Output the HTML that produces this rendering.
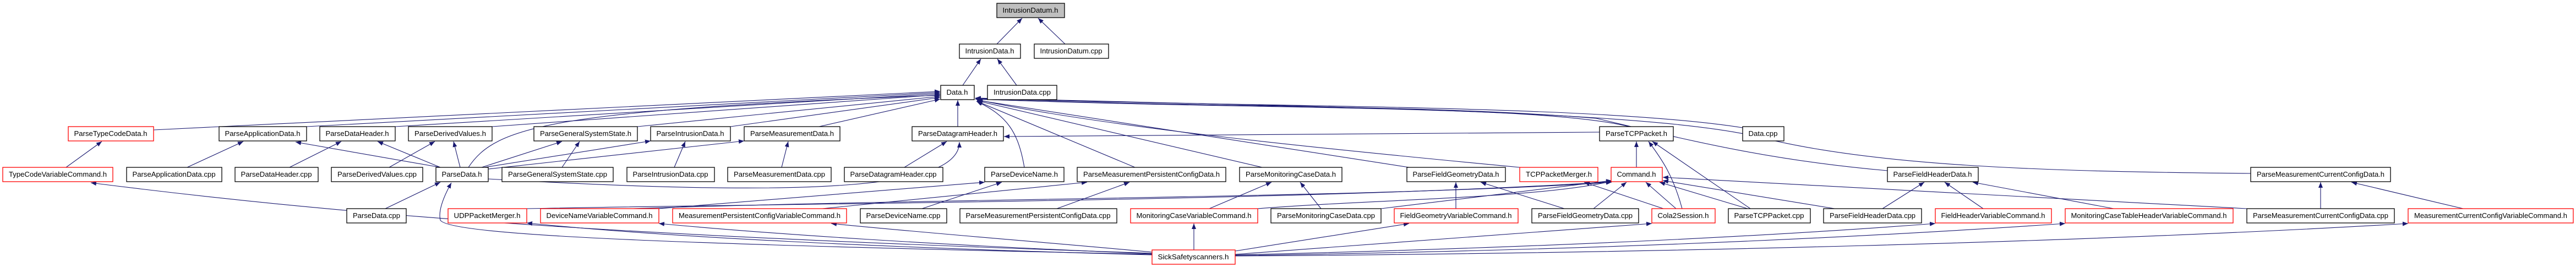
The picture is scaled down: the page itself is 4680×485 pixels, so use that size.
<!DOCTYPE html>
<html><head><meta charset="utf-8"><style>
html,body{margin:0;padding:0;background:#fff;}
svg{display:block;}
text{font-family:"Liberation Sans",Arial,sans-serif;font-size:13px;fill:#000;}
</style></head><body>
<svg width="4680" height="485" viewBox="0 0 4680 485" xmlns="http://www.w3.org/2000/svg">
<defs>
<marker id="a" viewBox="0 0 10 8" refX="10" refY="4" markerWidth="10" markerHeight="8" markerUnits="userSpaceOnUse" orient="auto">
<path d="M0,0 L10,4 L0,8 z" fill="#191970"/>
</marker>
</defs>
<g fill="none" stroke="#191970" stroke-width="1.1" marker-end="url(#a)">
<path d="M1811 80 L1857 33"/>
<path d="M1935 80 L1886 33"/>
<path d="M1749 155 L1782 107"/>
<path d="M1847 155 L1812 107"/>
<path d="M1740 230 L1740 182"/>
<path d="M279 236 L1708 166"/>
<path d="M557 230 L1708 168"/>
<path d="M718 230 L1708 170"/>
<path d="M894 230 L1708 172"/>
<path d="M1158 230 L1708 175"/>
<path d="M1327 230 L1708 177"/>
<path d="M1488 230 L1708 180"/>
<path d="M851 304 C 900 230, 1000 200, 1708 173"/>
<path d="M1861 304 C 1850 240, 1830 210, 1774 184"/>
<path d="M2062 304 L1775 184"/>
<path d="M2293 304 L1775 183"/>
<path d="M2560 304 L1775 182"/>
<path d="M2761 304 C 2400 270, 2000 230, 1775 181"/>
<path d="M2906 240 L1824 248"/>
<path d="M2960 230 C 2800 190, 2300 200, 1772 180"/>
<path d="M3166 232 C 2900 190, 2300 195, 1772 179"/>
<path d="M3429 310 C 3200 290, 3050 250, 2900 215 C 2600 190, 2200 195, 1772 180"/>
<path d="M4089 315 C 3700 312, 3400 300, 3200 250 C 3000 200, 2400 195, 1772 178"/>
<path d="M120 304 L185 257"/>
<path d="M340 304 L442 257"/>
<path d="M800 304 L537 258"/>
<path d="M526 304 L620 257"/>
<path d="M800 304 L686 257"/>
<path d="M707 304 L790 257"/>
<path d="M836 304 L824 257"/>
<path d="M875 304 L1021 257"/>
<path d="M1021 304 L1053 257"/>
<path d="M880 304 L1182 256"/>
<path d="M1225 304 L1245 257"/>
<path d="M887 307 L1352 256"/>
<path d="M1420 304 L1432 257"/>
<path d="M1643 304 L1720 257"/>
<path d="M700 379 L800 331"/>
<path d="M2093 462 C 1300 445, 820 430, 800 400 C 795 380, 810 350, 820 332"/>
<path d="M887 325 C 1500 360, 1743 340, 1743 258"/>
<path d="M957 379 C 1400 370, 2400 365, 2928 330"/>
<path d="M1197 379 L1789 331"/>
<path d="M1150 379 C 1700 360, 2500 360, 2928 331"/>
<path d="M1494 379 L1975 331"/>
<path d="M1675 379 L1820 331"/>
<path d="M1920 379 L2052 331"/>
<path d="M2197 379 L2310 331"/>
<path d="M2400 379 L2362 331"/>
<path d="M2509 379 L2928 328"/>
<path d="M2285 379 C 2500 362, 2800 360, 2928 329"/>
<path d="M2645 379 L2645 331"/>
<path d="M2842 379 L2690 331"/>
<path d="M2895 379 L2955 331"/>
<path d="M3022 379 L2878 331"/>
<path d="M3045 379 L2990 331"/>
<path d="M3056 379 C 3040 320, 3020 290, 2995 257"/>
<path d="M3180 379 L3002 257"/>
<path d="M3175 379 L3015 331"/>
<path d="M2973 304 L2973 257"/>
<path d="M3333 379 L3021 328"/>
<path d="M3420 379 L3496 331"/>
<path d="M3603 379 L3533 331"/>
<path d="M3840 379 L3584 331"/>
<path d="M4082 379 L3021 322"/>
<path d="M4216 379 L4216 331"/>
<path d="M4475 379 L4272 331"/>
<path d="M2093 460 C 1200 430, 700 400, 165 332"/>
<path d="M2093 463 C 1600 450, 1200 430, 957 405"/>
<path d="M2093 461 C 1700 445, 1400 425, 1197 406"/>
<path d="M2093 458 C 1900 440, 1700 425, 1510 406"/>
<path d="M2169 454 L2169 406"/>
<path d="M2244 456 L2560 406"/>
<path d="M2244 462 L3001 406"/>
<path d="M2244 463 C 2800 450, 3200 430, 3516 406"/>
<path d="M2244 464 C 2900 455, 3400 430, 3752 406"/>
<path d="M2244 465 C 3000 460, 3800 440, 4375 406"/>
</g>
<g stroke-width="1.3" fill="#fff">
<rect x="1811" y="6" width="123" height="26" fill="#bfbfbf" stroke="#000"/>
<rect x="1743" y="80" width="111" height="26" stroke="#000"/>
<rect x="1879" y="80" width="135" height="26" stroke="#000"/>
<rect x="1709" y="155" width="61" height="26" stroke="#000"/>
<rect x="1794" y="155" width="126" height="26" stroke="#000"/>
<rect x="124" y="230" width="155" height="26" stroke="#f00"/>
<rect x="398" y="230" width="159" height="26" stroke="#000"/>
<rect x="581" y="230" width="137" height="26" stroke="#000"/>
<rect x="742" y="230" width="152" height="26" stroke="#000"/>
<rect x="970" y="230" width="188" height="26" stroke="#000"/>
<rect x="1182" y="230" width="145" height="26" stroke="#000"/>
<rect x="1352" y="230" width="174" height="26" stroke="#000"/>
<rect x="1657" y="230" width="166" height="26" stroke="#000"/>
<rect x="2906" y="230" width="134" height="26" stroke="#000"/>
<rect x="3166" y="230" width="75" height="26" stroke="#000"/>
<rect x="5" y="304" width="200" height="26" stroke="#f00"/>
<rect x="230" y="304" width="173" height="26" stroke="#000"/>
<rect x="427" y="304" width="151" height="26" stroke="#000"/>
<rect x="602" y="304" width="166" height="26" stroke="#000"/>
<rect x="792" y="304" width="95" height="26" stroke="#000"/>
<rect x="912" y="304" width="202" height="26" stroke="#000"/>
<rect x="1139" y="304" width="159" height="26" stroke="#000"/>
<rect x="1322" y="304" width="188" height="26" stroke="#000"/>
<rect x="1534" y="304" width="179" height="26" stroke="#000"/>
<rect x="1789" y="304" width="144" height="26" stroke="#000"/>
<rect x="1957" y="304" width="270" height="26" stroke="#000"/>
<rect x="2252" y="304" width="186" height="26" stroke="#000"/>
<rect x="2556" y="304" width="179" height="26" stroke="#000"/>
<rect x="2761" y="304" width="142" height="26" stroke="#f00"/>
<rect x="2927" y="304" width="93" height="26" stroke="#f00"/>
<rect x="3429" y="304" width="165" height="26" stroke="#000"/>
<rect x="4089" y="304" width="254" height="26" stroke="#000"/>
<rect x="630" y="379" width="108" height="26" stroke="#000"/>
<rect x="814" y="379" width="143" height="26" stroke="#f00"/>
<rect x="982" y="379" width="215" height="26" stroke="#f00"/>
<rect x="1222" y="379" width="316" height="26" stroke="#f00"/>
<rect x="1563" y="379" width="157" height="26" stroke="#000"/>
<rect x="1744" y="379" width="285" height="26" stroke="#000"/>
<rect x="2054" y="379" width="231" height="26" stroke="#f00"/>
<rect x="2309" y="379" width="200" height="26" stroke="#000"/>
<rect x="2533" y="379" width="225" height="26" stroke="#f00"/>
<rect x="2783" y="379" width="194" height="26" stroke="#000"/>
<rect x="3001" y="379" width="115" height="26" stroke="#f00"/>
<rect x="3140" y="379" width="149" height="26" stroke="#000"/>
<rect x="3313" y="379" width="178" height="26" stroke="#000"/>
<rect x="3516" y="379" width="211" height="26" stroke="#f00"/>
<rect x="3752" y="379" width="305" height="26" stroke="#f00"/>
<rect x="4082" y="379" width="268" height="26" stroke="#000"/>
<rect x="4375" y="379" width="300" height="26" stroke="#f00"/>
<rect x="2093" y="454" width="151" height="26" stroke="#f00"/>
</g>
<g text-anchor="middle" lengthAdjust="spacingAndGlyphs">
<text x="1872" y="23" textLength="101" lengthAdjust="spacingAndGlyphs">IntrusionDatum.h</text>
<text x="1798" y="97" textLength="89" lengthAdjust="spacingAndGlyphs">IntrusionData.h</text>
<text x="1946" y="97" textLength="113" lengthAdjust="spacingAndGlyphs">IntrusionDatum.cpp</text>
<text x="1739" y="172" textLength="39" lengthAdjust="spacingAndGlyphs">Data.h</text>
<text x="1857" y="172" textLength="104" lengthAdjust="spacingAndGlyphs">IntrusionData.cpp</text>
<text x="201" y="247" textLength="133" lengthAdjust="spacingAndGlyphs">ParseTypeCodeData.h</text>
<text x="477" y="247" textLength="137" lengthAdjust="spacingAndGlyphs">ParseApplicationData.h</text>
<text x="649" y="247" textLength="115" lengthAdjust="spacingAndGlyphs">ParseDataHeader.h</text>
<text x="818" y="247" textLength="130" lengthAdjust="spacingAndGlyphs">ParseDerivedValues.h</text>
<text x="1064" y="247" textLength="166" lengthAdjust="spacingAndGlyphs">ParseGeneralSystemState.h</text>
<text x="1254" y="247" textLength="123" lengthAdjust="spacingAndGlyphs">ParseIntrusionData.h</text>
<text x="1439" y="247" textLength="152" lengthAdjust="spacingAndGlyphs">ParseMeasurementData.h</text>
<text x="1740" y="247" textLength="144" lengthAdjust="spacingAndGlyphs">ParseDatagramHeader.h</text>
<text x="2973" y="247" textLength="112" lengthAdjust="spacingAndGlyphs">ParseTCPPacket.h</text>
<text x="3203" y="247" textLength="53" lengthAdjust="spacingAndGlyphs">Data.cpp</text>
<text x="105" y="321" textLength="178" lengthAdjust="spacingAndGlyphs">TypeCodeVariableCommand.h</text>
<text x="316" y="321" textLength="151" lengthAdjust="spacingAndGlyphs">ParseApplicationData.cpp</text>
<text x="502" y="321" textLength="129" lengthAdjust="spacingAndGlyphs">ParseDataHeader.cpp</text>
<text x="685" y="321" textLength="144" lengthAdjust="spacingAndGlyphs">ParseDerivedValues.cpp</text>
<text x="839" y="321" textLength="73" lengthAdjust="spacingAndGlyphs">ParseData.h</text>
<text x="1013" y="321" textLength="180" lengthAdjust="spacingAndGlyphs">ParseGeneralSystemState.cpp</text>
<text x="1218" y="321" textLength="137" lengthAdjust="spacingAndGlyphs">ParseIntrusionData.cpp</text>
<text x="1416" y="321" textLength="166" lengthAdjust="spacingAndGlyphs">ParseMeasurementData.cpp</text>
<text x="1623" y="321" textLength="157" lengthAdjust="spacingAndGlyphs">ParseDatagramHeader.cpp</text>
<text x="1861" y="321" textLength="122" lengthAdjust="spacingAndGlyphs">ParseDeviceName.h</text>
<text x="2092" y="321" textLength="248" lengthAdjust="spacingAndGlyphs">ParseMeasurementPersistentConfigData.h</text>
<text x="2345" y="321" textLength="164" lengthAdjust="spacingAndGlyphs">ParseMonitoringCaseData.h</text>
<text x="2645" y="321" textLength="157" lengthAdjust="spacingAndGlyphs">ParseFieldGeometryData.h</text>
<text x="2832" y="321" textLength="120" lengthAdjust="spacingAndGlyphs">TCPPacketMerger.h</text>
<text x="2973" y="321" textLength="71" lengthAdjust="spacingAndGlyphs">Command.h</text>
<text x="3511" y="321" textLength="143" lengthAdjust="spacingAndGlyphs">ParseFieldHeaderData.h</text>
<text x="4216" y="321" textLength="232" lengthAdjust="spacingAndGlyphs">ParseMeasurementCurrentConfigData.h</text>
<text x="684" y="396" textLength="86" lengthAdjust="spacingAndGlyphs">ParseData.cpp</text>
<text x="885" y="396" textLength="121" lengthAdjust="spacingAndGlyphs">UDPPacketMerger.h</text>
<text x="1089" y="396" textLength="193" lengthAdjust="spacingAndGlyphs">DeviceNameVariableCommand.h</text>
<text x="1380" y="396" textLength="294" lengthAdjust="spacingAndGlyphs">MeasurementPersistentConfigVariableCommand.h</text>
<text x="1641" y="396" textLength="135" lengthAdjust="spacingAndGlyphs">ParseDeviceName.cpp</text>
<text x="1886" y="396" textLength="263" lengthAdjust="spacingAndGlyphs">ParseMeasurementPersistentConfigData.cpp</text>
<text x="2169" y="396" textLength="209" lengthAdjust="spacingAndGlyphs">MonitoringCaseVariableCommand.h</text>
<text x="2409" y="396" textLength="178" lengthAdjust="spacingAndGlyphs">ParseMonitoringCaseData.cpp</text>
<text x="2645" y="396" textLength="203" lengthAdjust="spacingAndGlyphs">FieldGeometryVariableCommand.h</text>
<text x="2880" y="396" textLength="172" lengthAdjust="spacingAndGlyphs">ParseFieldGeometryData.cpp</text>
<text x="3058" y="396" textLength="93" lengthAdjust="spacingAndGlyphs">Cola2Session.h</text>
<text x="3214" y="396" textLength="127" lengthAdjust="spacingAndGlyphs">ParseTCPPacket.cpp</text>
<text x="3402" y="396" textLength="156" lengthAdjust="spacingAndGlyphs">ParseFieldHeaderData.cpp</text>
<text x="3621" y="396" textLength="189" lengthAdjust="spacingAndGlyphs">FieldHeaderVariableCommand.h</text>
<text x="3904" y="396" textLength="283" lengthAdjust="spacingAndGlyphs">MonitoringCaseTableHeaderVariableCommand.h</text>
<text x="4216" y="396" textLength="246" lengthAdjust="spacingAndGlyphs">ParseMeasurementCurrentConfigData.cpp</text>
<text x="4525" y="396" textLength="278" lengthAdjust="spacingAndGlyphs">MeasurementCurrentConfigVariableCommand.h</text>
<text x="2168" y="471" textLength="129" lengthAdjust="spacingAndGlyphs">SickSafetyscanners.h</text>
</g>
</svg>
</body></html>
